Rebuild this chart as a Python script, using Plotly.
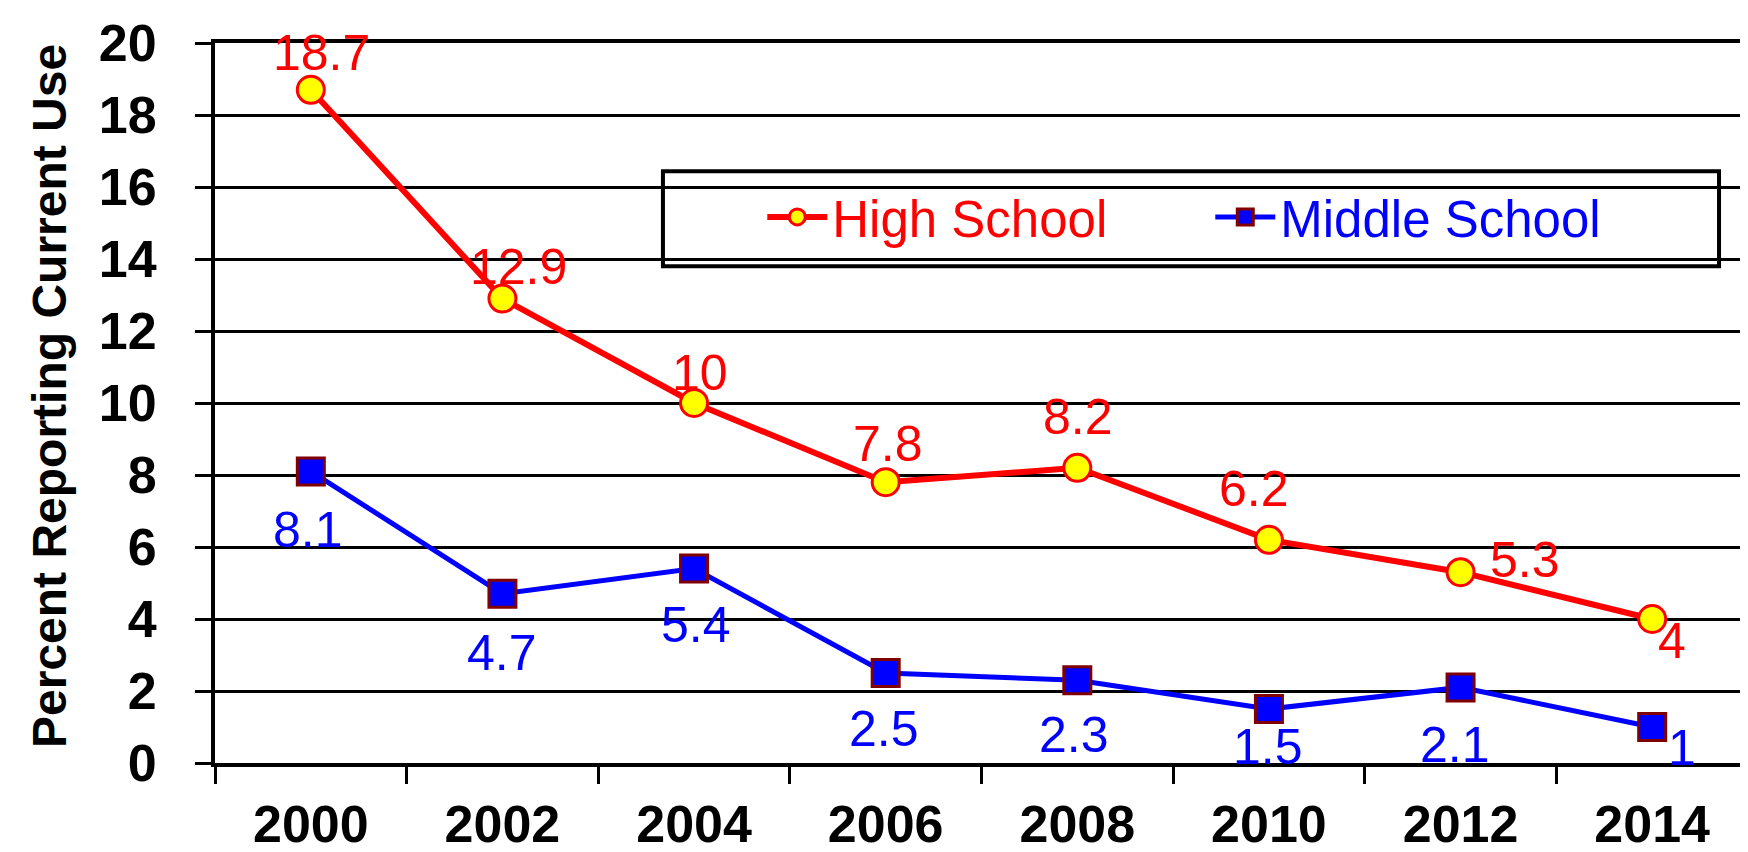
import plotly.graph_objects as go

years = ["2000", "2002", "2004", "2006", "2008", "2010", "2012", "2014"]
high_school = [18.7, 12.9, 10, 7.8, 8.2, 6.2, 5.3, 4]
middle_school = [8.1, 4.7, 5.4, 2.5, 2.3, 1.5, 2.1, 1]
high_labels = ["18.7", "12.9", "10", "7.8", "8.2", "6.2", "5.3", "4"]
middle_labels = ["8.1", "4.7", "5.4", "2.5", "2.3", "1.5", "2.1", "1"]
y_title = "Percent Reporting Current Use"

# label offsets in pixels (style only)
hs_dx = [11, 16, 6, 2, 1, -15, 64, 20]
hs_dy = [37, 32, 30, 38, 51, 51, 12, -22]
ms_dx = [-3, 0, 2, -2, -3, -1, -6, 30]
ms_dy = [-59, -59, -56, -56, -55, -38, -58, -21]

RED = "#FF0000"
BLUE = "#0000FF"
FONT = "Arial, Liberation Sans, sans-serif"

fig = go.Figure()
fig.add_trace(go.Scatter(
    x=years, y=high_school, mode="lines+markers",
    name='<span style="color:#FF0000">High School</span>',
    line=dict(color=RED, width=6),
    marker=dict(symbol="circle", size=27, color="#FFFF00", line=dict(color=RED, width=3)),
))
fig.add_trace(go.Scatter(
    x=years, y=middle_school, mode="lines+markers",
    name='<span style="color:#0000FF">Middle School</span>',
    line=dict(color=BLUE, width=5),
    marker=dict(symbol="square", size=27, color=BLUE, line=dict(color="#800000", width=3)),
))

annotations = []
for i, (lab, v, dx, dy) in enumerate(zip(high_labels, high_school, hs_dx, hs_dy)):
    annotations.append(dict(x=i, y=v, text=lab, showarrow=False, xshift=dx, yshift=dy,
                            font=dict(family=FONT, size=50, color=RED)))
for i, (lab, v, dx, dy) in enumerate(zip(middle_labels, middle_school, ms_dx, ms_dy)):
    annotations.append(dict(x=i, y=v, text=lab, showarrow=False, xshift=dx, yshift=dy,
                            font=dict(family=FONT, size=50, color=BLUE)))
annotations.append(dict(xref="paper", yref="paper", x=-0.1083, y=0.5097, text=y_title,
                        textangle=-90, showarrow=False, xanchor="center", yanchor="middle",
                        font=dict(family=FONT, size=48, color="black", weight="bold")))

fig.update_layout(
    width=1748, height=852,
    margin=dict(l=207, r=8, t=35, b=97, autoexpand=False),
    paper_bgcolor="white", plot_bgcolor="white",
    font=dict(family=FONT, color="black"),
    showlegend=True,
    legend=dict(orientation="h", x=0.357, xanchor="left", y=0.758, yanchor="middle",
                bgcolor="rgba(0,0,0,0)", borderwidth=0,
                font=dict(family=FONT, size=51), itemwidth=60,
                entrywidth=373, entrywidthmode="pixels"),
    annotations=annotations,
    shapes=[dict(type="rect", xref="paper", yref="paper", x0=0.2922, x1=0.9811,
                 y0=0.690, y1=0.822, fillcolor="white", line=dict(color="black", width=4),
                 layer="between")],
)
fig.update_xaxes(
    type="category", range=[-0.5, len(years) - 0.5], tickson="boundaries",
    ticks="outside", ticklen=17, tickwidth=3,
    tickcolor="black", showline=True, linecolor="black", linewidth=4, mirror=True,
    showgrid=False, tickfont=dict(family=FONT, size=52, color="black", weight="bold"),
    ticklabelstandoff=13, tickangle=0,
)
fig.update_yaxes(
    range=[0, 20], dtick=2, ticks="outside", ticklen=16, tickwidth=3, tickcolor="black",
    showline=True, linecolor="black", linewidth=4, mirror=True,
    showgrid=True, gridcolor="black", gridwidth=3, zeroline=False,
    tickfont=dict(family=FONT, size=52, color="black", weight="bold"),
    ticklabelstandoff=28,
)

fig.write_html("out.html")
